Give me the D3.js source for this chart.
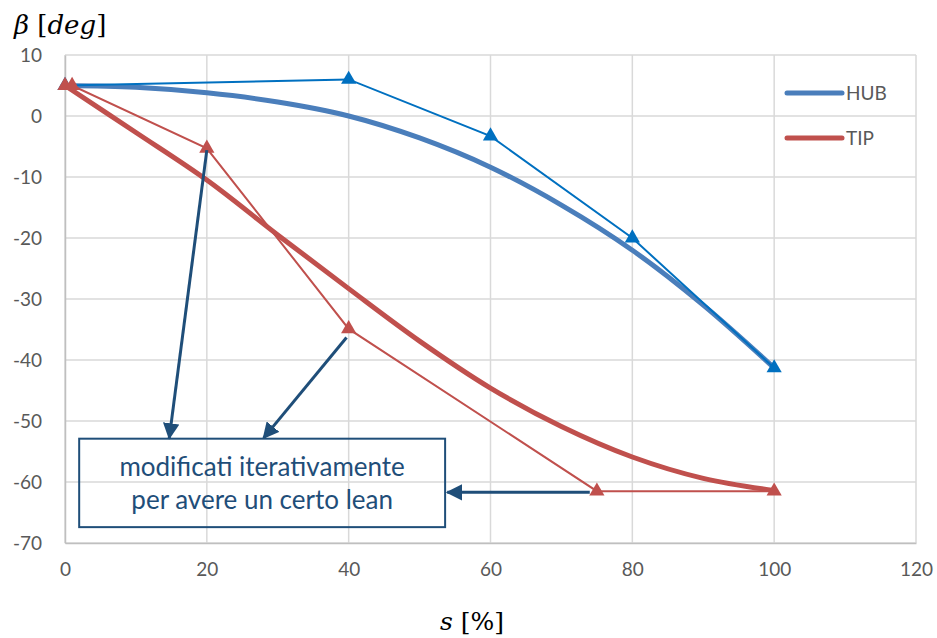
<!DOCTYPE html>
<html>
<head>
<meta charset="utf-8">
<script src="https://cdn.jsdelivr.net/npm/d3@7"></script>
<style>
  body { margin: 0; background: #fff; }
  svg { display: block; }
</style>
</head>
<body>
<div id="chart"></div>
<script>
// curve spessa HUB / TIP
var sCurve = [0, 10, 20, 30, 40, 50, 60, 70, 80, 90, 100];
var hubCurve = [5, 4.7, 3.8, 2.3, 0, -3.6, -8.4, -14.6, -22, -31, -41.3];
var tipCurve = [5, -2.7, -10.5, -19.5, -28.3, -36.9, -44.6, -50.9, -55.9, -59.4, -61.4];

// punti di controllo (linee sottili con triangoli)
var hubCtrlS = [0, 40, 60, 80, 100];
var hubCtrl = [5, 6, -3.3, -20, -41.3];
var tipCtrlS = [0, 1, 20, 40, 75, 100];
var tipCtrl = [5, 5, -5.3, -34.9, -61.5, -61.5];

var xTicks = [0, 20, 40, 60, 80, 100, 120];
var yTicks = [10, 0, -10, -20, -30, -40, -50, -60, -70];
var seriesNames = ["HUB", "TIP"];

var width = 937;
var height = 638;
var margin = { top: 55, right: 21, bottom: 95, left: 65 };

var svg = d3.select("#chart")
    .append("svg")
    .attr("width", width)
    .attr("height", height);

var x = d3.scaleLinear().domain([0, 120]).range([margin.left, width - margin.right]);
var y = d3.scaleLinear().domain([-70, 10]).range([height - margin.bottom, margin.top]);

var gray = "#d9d9d9";
var labelColor = "#595959";
var annColor = "#1f4e79";

// griglia
svg.append("g")
    .selectAll("line")
    .data(yTicks)
    .enter()
    .append("line")
    .attr("x1", x(0)).attr("x2", x(120))
    .attr("y1", function(d) { return y(d); })
    .attr("y2", function(d) { return y(d); })
    .attr("stroke", gray)
    .attr("stroke-width", 1.5);

svg.append("g")
    .selectAll("line")
    .data(xTicks)
    .enter()
    .append("line")
    .attr("y1", y(10)).attr("y2", y(-70))
    .attr("x1", function(d) { return x(d); })
    .attr("x2", function(d) { return x(d); })
    .attr("stroke", gray)
    .attr("stroke-width", 1.5);

// assi (trattino semplice come nell'originale)
var fmt = function(d) { return String(d); };
var xAxis = svg.append("g")
    .attr("transform", "translate(0," + y(-70) + ")")
    .call(d3.axisBottom(x).tickValues(xTicks).tickFormat(fmt).tickSize(0).tickPadding(20));
var yAxis = svg.append("g")
    .attr("transform", "translate(" + x(0) + ",0)")
    .call(d3.axisLeft(y).tickValues(yTicks).tickFormat(fmt).tickSize(0).tickPadding(23));

[xAxis, yAxis].forEach(function(a) {
    a.select(".domain").attr("stroke", "#bfbfbf").attr("stroke-width", 1.5);
    a.selectAll("text")
        .attr("fill", labelColor)
        .style("font-family", "Lato, 'Open Sans', sans-serif")
        .style("font-size", "19px");
});

// linee
function pts(xs, ys) {
    return xs.map(function(v, i) { return [v, ys[i]]; });
}

var smooth = d3.line()
    .x(function(d) { return x(d[0]); })
    .y(function(d) { return y(d[1]); })
    .curve(d3.curveCatmullRom.alpha(0.5));

var straight = d3.line()
    .x(function(d) { return x(d[0]); })
    .y(function(d) { return y(d[1]); });

var tri = d3.symbol().type(d3.symbolTriangle).size(100);

function drawCtrl(data, color) {
    svg.append("path")
        .attr("d", straight(data))
        .attr("fill", "none")
        .attr("stroke", color)
        .attr("stroke-width", 2);
    svg.append("g")
        .selectAll("path")
        .data(data)
        .enter()
        .append("path")
        .attr("d", tri)
        .attr("transform", function(d) { return "translate(" + x(d[0]) + "," + y(d[1]) + ")"; })
        .attr("fill", color);
}

svg.append("path")
    .attr("d", smooth(pts(sCurve, hubCurve)))
    .attr("fill", "none")
    .attr("stroke", "#4a7ebb")
    .attr("stroke-width", 5)
    .attr("stroke-linecap", "round");

drawCtrl(pts(hubCtrlS, hubCtrl), "#0070c0");

svg.append("path")
    .attr("d", smooth(pts(sCurve, tipCurve)))
    .attr("fill", "none")
    .attr("stroke", "#c0504d")
    .attr("stroke-width", 5)
    .attr("stroke-linecap", "round");

drawCtrl(pts(tipCtrlS, tipCtrl), "#c0504d");

// legenda
var legendColors = ["#4a7ebb", "#c0504d"];
var legend = svg.selectAll(".legend")
    .data(seriesNames)
    .enter()
    .append("g")
    .attr("transform", function(d, i) { return "translate(787," + (93 + i * 45) + ")"; });

legend.append("line")
    .attr("x1", 0).attr("x2", 55)
    .attr("stroke", function(d, i) { return legendColors[i]; })
    .attr("stroke-width", 5)
    .attr("stroke-linecap", "round");

legend.append("text")
    .attr("x", 59)
    .attr("dy", "0.35em")
    .attr("fill", labelColor)
    .style("font-family", "Lato, 'Open Sans', sans-serif")
    .style("font-size", "19px")
    .text(function(d) { return d; });

// annotazioni
var defs = svg.append("defs");
defs.append("marker")
    .attr("id", "arrow")
    .attr("viewBox", "0 0 10 10")
    .attr("refX", 9).attr("refY", 5)
    .attr("markerWidth", 5.5).attr("markerHeight", 5.5)
    .attr("markerUnits", "strokeWidth")
    .attr("orient", "auto")
    .append("path")
    .attr("d", "M0,0 L10,5 L0,10 z")
    .attr("fill", annColor);

var arrows = [
    [[20, -5.6], [14.7, -52.8]],
    [[39.7, -36.3], [28, -52.8]],
    [[74, -61.7], [53.9, -61.7]]
];

svg.append("g")
    .selectAll("line")
    .data(arrows)
    .enter()
    .append("line")
    .attr("x1", function(d) { return x(d[0][0]); })
    .attr("y1", function(d) { return y(d[0][1]); })
    .attr("x2", function(d) { return x(d[1][0]); })
    .attr("y2", function(d) { return y(d[1][1]); })
    .attr("stroke", annColor)
    .attr("stroke-width", 3)
    .attr("marker-end", "url(#arrow)");

svg.append("rect")
    .attr("x", x(2)).attr("y", y(-52.9))
    .attr("width", x(53.6) - x(2))
    .attr("height", y(-67.4) - y(-52.9))
    .attr("fill", "none")
    .attr("stroke", annColor)
    .attr("stroke-width", 2);

var cx = (x(2) + x(53.6)) / 2;
var boxText = svg.append("text")
    .attr("text-anchor", "middle")
    .attr("fill", annColor)
    .style("font-family", "Lato, 'Open Sans', sans-serif")
    .style("font-size", "26px");
boxText.append("tspan").attr("x", cx).attr("y", 476).text("modificati iterativamente");
boxText.append("tspan").attr("x", cx).attr("y", 509).text("per avere un certo lean");

// titoli assi
var yTitle = svg.append("text")
    .attr("x", 14).attr("y", 34)
    .attr("fill", "#000")
    .style("font-family", "'DejaVu Serif', serif")
    .style("font-size", "26px");
yTitle.append("tspan").style("font-style", "italic").text("β");
yTitle.append("tspan").text(" [");
yTitle.append("tspan").style("font-style", "italic").text("deg");
yTitle.append("tspan").text("]");

var xTitle = svg.append("text")
    .attr("x", 472).attr("y", 630)
    .attr("text-anchor", "middle")
    .attr("fill", "#000")
    .style("font-family", "'DejaVu Serif', serif")
    .style("font-size", "25px");
xTitle.append("tspan").style("font-style", "italic").text("s");
xTitle.append("tspan").text(" [%]");
</script>
</body>
</html>
